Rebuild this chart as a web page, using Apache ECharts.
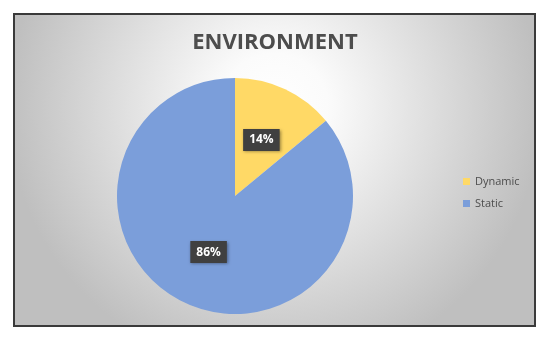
<!DOCTYPE html>
<html>
<head>
<meta charset="utf-8">
<script src="https://cdn.jsdelivr.net/npm/echarts@6/dist/echarts.min.js"></script>
<style>
    html, body { margin: 0; padding: 0; background: #fff; }
    #main { width: 550px; height: 342px; }
</style>
</head>
<body>
<div id="main"></div>
<script>
var categories = ['Dynamic', 'Static'];
var values = [14, 86];
var colors = ['#FFD966', '#7B9EDA'];

var pieData = categories.map(function (name, i) {
    return {name: name, value: values[i], itemStyle: {color: colors[i]}};
});

var myChart = echarts.init(document.getElementById('main'));

var option = {
    animation: false,
    graphic: [{
        type: 'rect',
        z: -10,
        shape: {x: 14, y: 14, width: 521, height: 312},
        style: {
            fill: new echarts.graphic.RadialGradient(0.5, 0.3, 0.85, [
                {offset: 0, color: '#ffffff'},
                {offset: 0.2, color: '#fbfbfb'},
                {offset: 1, color: '#bfbfbf'}
            ]),
            stroke: '#3a3a3a',
            lineWidth: 2
        }
    }],
    title: {
        text: 'ENVIRONMENT',
        left: 'center',
        top: 27,
        textStyle: {
            fontFamily: 'Open Sans',
            fontWeight: 'bold',
            fontSize: 22,
            color: '#4d4d4d'
        }
    },
    legend: {
        orient: 'vertical',
        left: 458,
        top: 171,
        icon: 'rect',
        itemWidth: 7,
        itemHeight: 7,
        itemGap: 11,
        textStyle: {
            fontFamily: 'Open Sans',
            fontSize: 11,
            color: '#4d4d4d'
        },
        data: categories
    },
    series: [{
        type: 'pie',
        center: [235, 196],
        radius: [0, 118],
        startAngle: 90,
        clockwise: true,
        label: {
            show: true,
            position: 'inside',
            formatter: '{d}%',
            color: '#fff',
            fontFamily: 'Open Sans',
            fontWeight: 'bold',
            fontSize: 12,
            backgroundColor: '#404040',
            padding: [5, 6],
            shadowColor: 'rgba(0,0,0,0.4)',
            shadowBlur: 3,
            shadowOffsetX: 1,
            shadowOffsetY: 1
        },
        labelLine: {show: false},
        emphasis: {disabled: true},
        itemStyle: {borderWidth: 0},
        data: pieData
    }]
};

myChart.setOption(option);
</script>
</body>
</html>
